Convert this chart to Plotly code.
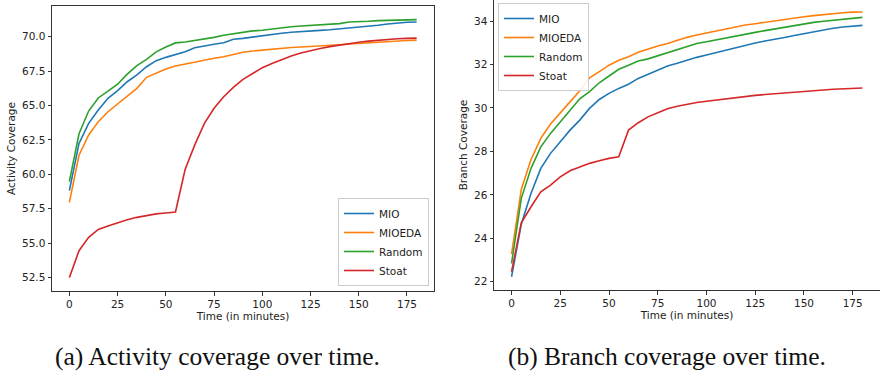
import plotly.graph_objects as go

# ---------------- data ----------------
minutes = list(range(0, 185, 5))
series_names = ["MIO", "MIOEDA", "Random", "Stoat"]
series_colors = ["#1f77b4", "#ff7f0e", "#2ca02c", "#d62728"]

activity_mio = [58.82, 62.25, 63.71, 64.68, 65.53, 66.08, 66.73, 67.22, 67.82, 68.26, 68.5, 68.72,
                68.91, 69.2, 69.35, 69.45, 69.56, 69.81, 69.88, 69.98, 70.08, 70.17, 70.25, 70.32,
                70.38, 70.42, 70.46, 70.5, 70.56, 70.65, 70.72, 70.78, 70.83, 70.92, 71.0, 71.05, 71.07]
activity_mioeda = [57.97, 61.39, 62.86, 63.83, 64.55, 65.11, 65.64, 66.25, 67.05, 67.34, 67.65, 67.87,
                   68.02, 68.16, 68.29, 68.43, 68.55, 68.72, 68.87, 68.96, 69.03, 69.12, 69.2, 69.22,
                   69.25, 69.28, 69.33, 69.38, 69.42, 69.47, 69.52, 69.56, 69.6, 69.64, 69.68, 69.72, 69.75]
activity_random = [59.47, 62.95, 64.6, 65.55, 66.05, 66.55, 67.28, 67.9, 68.35, 68.9, 69.25, 69.55,
                   69.62, 69.72, 69.85, 69.95, 70.1, 70.22, 70.35, 70.42, 70.47, 70.57, 70.66, 70.72,
                   70.78, 70.82, 70.85, 70.88, 70.95, 71.07, 71.08, 71.12, 71.17, 71.2, 71.22, 71.23, 71.24]
activity_stoat = [52.5, 54.46, 55.43, 56.0, 56.25, 56.49, 56.71, 56.88, 57.03, 57.13, 57.2, 57.27,
                  60.35, 62.14, 63.71, 64.8, 65.64, 66.32, 66.9, 67.34, 67.75, 68.05, 68.35, 68.6,
                  68.82, 69.0, 69.15, 69.28, 69.4, 69.5, 69.6, 69.68, 69.75, 69.8, 69.85, 69.88, 69.9]

branch_mio = [22.23, 24.65, 26.07, 27.22, 27.91, 28.44, 28.98, 29.44, 29.98, 30.39, 30.67, 30.9,
              31.09, 31.36, 31.56, 31.74, 31.93, 32.06, 32.2, 32.33, 32.44, 32.55, 32.66, 32.77,
              32.9, 32.99, 33.08, 33.15, 33.24, 33.34, 33.43, 33.52, 33.6, 33.67, 33.73, 33.78, 33.8]
branch_mioeda = [23.27, 26.25, 27.63, 28.6, 29.26, 29.75, 30.28, 30.79, 31.39, 31.67, 31.97, 32.2,
                 32.36, 32.56, 32.71, 32.85, 32.97, 33.12, 33.25, 33.36, 33.45, 33.56, 33.66, 33.74,
                 33.82, 33.88, 33.95, 34.02, 34.08, 34.14, 34.2, 34.25, 34.3, 34.35, 34.38, 34.41, 34.42]
branch_random = [22.84, 25.84, 27.22, 28.21, 28.83, 29.36, 29.9, 30.42, 30.75, 31.16, 31.47, 31.78,
                 31.97, 32.16, 32.26, 32.4, 32.54, 32.68, 32.85, 32.97, 33.05, 33.14, 33.24, 33.32,
                 33.4, 33.48, 33.56, 33.64, 33.72, 33.8, 33.88, 33.94, 33.99, 34.04, 34.09, 34.15, 34.17]
branch_stoat = [22.46, 24.71, 25.45, 26.14, 26.45, 26.83, 27.11, 27.29, 27.45, 27.57, 27.68, 27.75,
                28.98, 29.32, 29.59, 29.78, 29.96, 30.08, 30.18, 30.25, 30.31, 30.37, 30.42, 30.48,
                30.53, 30.58, 30.62, 30.66, 30.7, 30.74, 30.77, 30.8, 30.83, 30.86, 30.88, 30.9, 30.92]

x_tick_vals = [0, 25, 50, 75, 100, 125, 150, 175]
activity_ticks = [52.5, 55.0, 57.5, 60.0, 62.5, 65.0, 67.5, 70.0]
branch_ticks = [22, 24, 26, 28, 30, 32, 34]

x_title = "Time (in minutes)"
activity_title = "Activity Coverage"
branch_title = "Branch Coverage"
caption_a = "(a) Activity coverage over time."
caption_b = "(b) Branch coverage over time."

# ---------------- figure ----------------
W, H = 880, 375
TXT = "#222222"
AX = "#333333"
FONT = "DejaVu Sans"
FS = 10.5

fig = go.Figure()

activity = [activity_mio, activity_mioeda, activity_random, activity_stoat]
branch = [branch_mio, branch_mioeda, branch_random, branch_stoat]

for name, col, ys in zip(series_names, series_colors, activity):
    fig.add_trace(go.Scatter(x=minutes, y=ys, mode="lines", name=name,
                             line=dict(color=col, width=1.6),
                             xaxis="x", yaxis="y", legend="legend"))
for name, col, ys in zip(series_names, series_colors, branch):
    fig.add_trace(go.Scatter(x=minutes, y=ys, mode="lines", name=name,
                             line=dict(color=col, width=1.6),
                             xaxis="x2", yaxis="y2", legend="legend2"))

def px_x(p):
    return p / W

def px_y(p):
    return 1 - p / H

common_axis = dict(showgrid=False, zeroline=False, showline=True, linecolor=AX, linewidth=1,
                   ticks="outside", ticklen=3.5, tickwidth=0.8, tickcolor=AX,
                   tickfont=dict(family=FONT, size=FS, color=TXT))

legend_common = dict(bgcolor="rgba(255,255,255,0.85)", bordercolor="#cccccc", borderwidth=1,
                     font=dict(family=FONT, size=FS, color=TXT), itemwidth=30, tracegroupgap=0)

fig.update_layout(
    width=W, height=H, autosize=False,
    margin=dict(l=0, r=0, t=0, b=0),
    paper_bgcolor="white", plot_bgcolor="white",
    font=dict(family=FONT, size=FS, color=TXT),
    xaxis=dict(domain=[px_x(52), px_x(434)], range=[-9, 189], anchor="y", mirror=True,
               tickvals=x_tick_vals,
               title=dict(text=x_title, standoff=3, font=dict(family=FONT, size=FS, color=TXT)),
               **common_axis),
    yaxis=dict(domain=[px_y(291), px_y(6)], range=[51.53, 72.23], anchor="x", mirror=True,
               tickvals=activity_ticks, tickformat=".1f",
               title=dict(text=activity_title, standoff=4, font=dict(family=FONT, size=FS, color=TXT)),
               **common_axis),
    xaxis2=dict(domain=[px_x(494), 1.0], range=[-9, 189], anchor="y2",
                tickvals=x_tick_vals,
                title=dict(text=x_title, standoff=3, font=dict(family=FONT, size=FS, color=TXT)),
                **common_axis),
    yaxis2=dict(domain=[px_y(290), 1.0], range=[21.62, 34.97], anchor="x2",
                tickvals=branch_ticks,
                title=dict(text=branch_title, standoff=4, font=dict(family=FONT, size=FS, color=TXT)),
                **common_axis),
    legend=dict(x=px_x(429), y=px_y(286), xanchor="right", yanchor="bottom", **legend_common),
    legend2=dict(x=px_x(498), y=px_y(3), xanchor="left", yanchor="top", **legend_common),
    showlegend=True,
)

cap_font = dict(family="Liberation Serif", size=25.5, color="#111111")
fig.add_annotation(text=caption_a, x=px_x(217), y=px_y(356), xref="paper", yref="paper",
                   xanchor="center", yanchor="middle", showarrow=False, font=cap_font)
fig.add_annotation(text=caption_b, x=px_x(667), y=px_y(356), xref="paper", yref="paper",
                   xanchor="center", yanchor="middle", showarrow=False, font=cap_font)

fig.write_html("out.html", config={"displayModeBar": False},
               post_script="document.body.style.margin='0';document.body.style.overflow='hidden';")
